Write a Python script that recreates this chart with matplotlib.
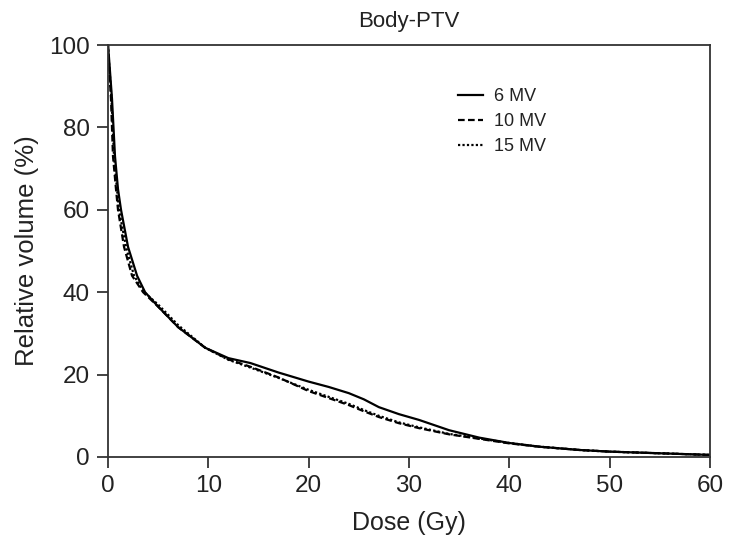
import matplotlib
matplotlib.use('Agg')
import matplotlib.pyplot as plt

plt.rcParams['font.family'] = ['Liberation Sans', 'DejaVu Sans']

# Dose-volume data (Dose in Gy, relative volume in %)
dose_6mv = [0, 0.1, 0.4, 0.7, 1.0, 1.3, 2.0, 2.9, 3.7, 5, 7, 9.7, 12, 14.2, 17, 20,
            22, 24, 25.5, 27, 29, 31, 34, 37, 40, 43, 47, 50, 55, 60]
vol_6mv = [100, 97, 87, 73, 65, 60, 51, 44, 40, 36.5, 31.5, 26.5, 24, 22.8, 20.5, 18.3,
           17, 15.5, 14.0, 12.1, 10.4, 9, 6.5, 4.7, 3.4, 2.5, 1.7, 1.3, 0.9, 0.5]

dose_10mv = [0, 0.1, 0.3, 0.5, 0.8, 1.0, 1.6, 2.4, 3.5, 5, 7, 9.7, 12, 14.2, 17, 20,
             22, 24, 25.5, 27, 29, 31, 34, 37, 40, 43, 47, 50, 55, 60]
vol_10mv = [100, 95, 87, 73, 65, 60, 51, 44, 40, 36.5, 31.5, 26.5, 23.7, 21.9, 19.3, 16.0,
            14.3, 12.6, 11.1, 9.7, 8.2, 7.0, 5.5, 4.4, 3.3, 2.5, 1.7, 1.3, 0.9, 0.5]

dose_15mv = [0, 0.1, 0.35, 0.6, 0.9, 1.1, 1.8, 2.6, 3.6, 5, 7, 9.7, 12, 14.2, 17, 20,
             22, 24, 25.5, 27, 29, 31, 34, 37, 40, 43, 47, 50, 55, 60]
vol_15mv = [100, 96, 87, 73, 65, 60, 51, 44, 40, 37, 32, 26.5, 23.6, 21.7, 19.2, 16.3,
            14.6, 12.9, 11.4, 10, 8.4, 7.2, 5.6, 4.5, 3.4, 2.5, 1.7, 1.3, 0.9, 0.5]

text_color = '#222222'

fig = plt.figure(figsize=(7.38, 5.49), dpi=100)
ax = fig.add_axes([0.1463, 0.1676, 0.8157, 0.7504])

ax.plot(dose_6mv, vol_6mv, color='black', linewidth=1.6, linestyle='-', label='6 MV')
ax.plot(dose_10mv, vol_10mv, color='black', linewidth=1.6, linestyle=(0, (3, 1.5)), label='10 MV')
ax.plot(dose_15mv, vol_15mv, color='black', linewidth=1.6, linestyle=(0, (1, 1)), label='15 MV')

ax.set_xlim(0, 60)
ax.set_ylim(0, 100)
ax.set_xticks([0, 10, 20, 30, 40, 50, 60])
ax.set_yticks([0, 20, 40, 60, 80, 100])
ax.tick_params(direction='out', length=8, width=1.2, labelsize=17.5, colors=text_color, pad=5)

for side in ['left', 'right', 'top', 'bottom']:
    ax.spines[side].set_color('#333333')
    ax.spines[side].set_linewidth(1.3)

ax.set_xlabel('Dose (Gy)', fontsize=18, color=text_color, labelpad=10)
ax.set_ylabel('Relative volume (%)', fontsize=18.5, color=text_color, labelpad=7)
ax.set_title('Body-PTV', fontsize=16, color=text_color, pad=13)

leg = ax.legend(loc='upper left', bbox_to_anchor=(0.555, 0.935), frameon=False,
                fontsize=13, handlelength=1.35, handletextpad=0.6, labelspacing=0.45)
for t in leg.get_texts():
    t.set_color(text_color)

plt.savefig('out.png', dpi=100)
plt.close()
